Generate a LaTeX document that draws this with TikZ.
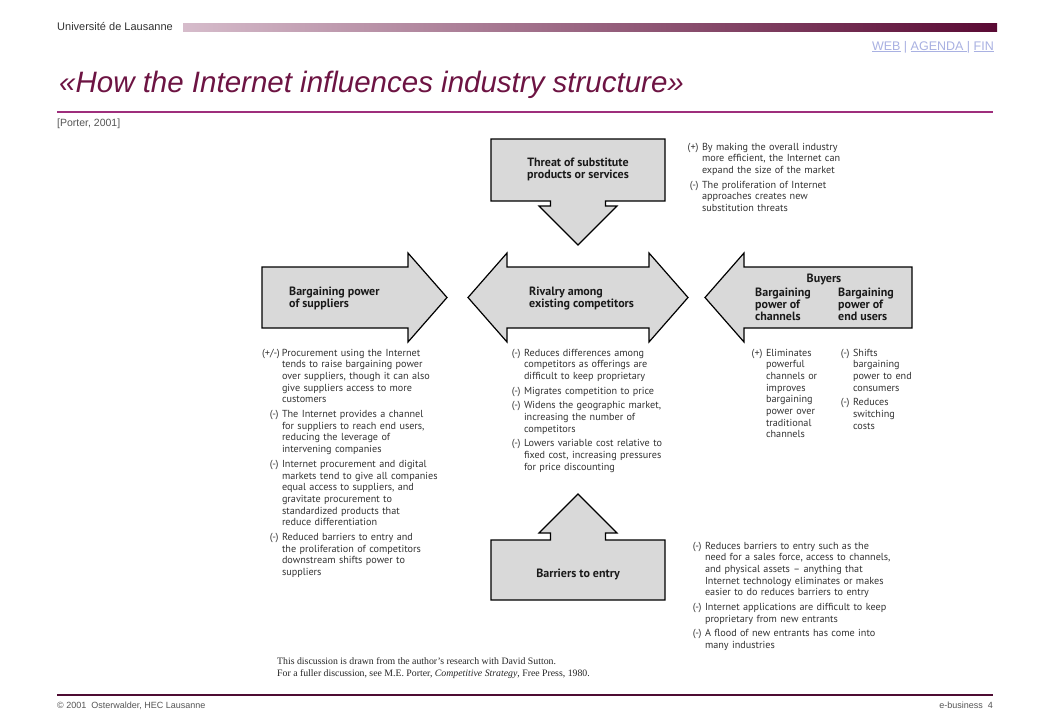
\documentclass[tikz,border=0pt]{standalone}
\usepackage{fontspec}
\setmainfont{PT Sans}
\newfontfamily\hdr{Liberation Sans}
\newfontfamily\fnserif{Liberation Serif}
\definecolor{barL}{HTML}{D6BCCB}
\definecolor{barR}{HTML}{5A0A34}
\definecolor{titlec}{HTML}{6D1443}
\definecolor{rulec}{HTML}{9E2E7C}
\definecolor{footrule}{HTML}{4E0C32}
\definecolor{linkc}{HTML}{A9B1E2}
\definecolor{greyt}{HTML}{555555}
\definecolor{notec}{HTML}{333333}
\definecolor{labelc}{HTML}{1A1A1A}
\definecolor{boxgray}{HTML}{D9D9D9}
\newlength\mkw
\newcommand\nitem[2]{\hangindent=\mkw\hangafter=1\noindent\hbox to\mkw{\hfil#1\hskip3.5pt}#2\par}
\newcommand\ngap{\vskip3pt}
\newcommand\notefont{\fontsize{10.2}{11.7}\selectfont}
\tikzset{
  shapebox/.style={draw=black, fill=boxgray, line width=1.2pt, line join=miter},
  note/.style={anchor=base west, inner sep=0pt, outer sep=0pt, align=left, text width=#1, font=\notefont, text=notec},
  boxlabel/.style={inner sep=0pt, font=\bfseries\fontsize{12}{11.8}\selectfont, text=labelc},
  hdrtext/.style={inner sep=0pt, font=\hdr\fontsize{11}{12}\selectfont, text=greyt},
}
\begin{document}
\begin{tikzpicture}[x=1pt,y=-1pt]
\fill[white] (0,0) rectangle (1040,720);
\useasboundingbox (0,0) rectangle (1040,720);

% ---------- header ----------
\node[hdrtext, anchor=base west, text=black!80] (univ) at (57,30) {Université de Lausanne};
\shade[left color=barL, right color=barR] (183,23) rectangle (997,31);
\node[hdrtext, anchor=base east, text=linkc, font=\hdr\fontsize{12.5}{13}\selectfont] (links) at (994,50)
  {\underline{WEB} | \underline{AGENDA\ }| \underline{FIN}};
\node[inner sep=0pt, anchor=base west, text=titlec, font=\hdr\itshape\fontsize{29.5}{34}\selectfont] (title) at (59,92)
  {«How the Internet influences industry structure»};
\draw[rulec, line width=1.2pt] (57,112) -- (993,112);
\node[hdrtext, anchor=base west, font=\hdr\fontsize{10.5}{11}\selectfont] (source) at (57,126) {[Porter, 2001]};

% ---------- shapes ----------
% threat of substitutes (down arrow)
\draw[shapebox] (491,139) -- (665,139) -- (665,201) -- (605.5,201) -- (605.5,206) -- (617,206)
  -- (578,245) -- (539,206) -- (550.5,206) -- (550.5,201) -- (491,201) -- cycle;
% suppliers (right arrow)
\draw[shapebox] (262,267) -- (408,267) -- (408,253) -- (447,297.5) -- (408,342) -- (408,328) -- (262,328) -- cycle;
% rivalry (double arrow)
\draw[shapebox] (468,297.5) -- (507,253) -- (507,267) -- (649,267) -- (649,253) -- (688,297.5)
  -- (649,342) -- (649,328) -- (507,328) -- (507,342) -- cycle;
% buyers (left arrow)
\draw[shapebox] (705,297.5) -- (744,253) -- (744,267) -- (912,267) -- (912,328) -- (744,328) -- (744,342) -- cycle;
% barriers to entry (up arrow)
\draw[shapebox] (578,494) -- (617,533) -- (605.5,533) -- (605.5,540) -- (665,540) -- (665,600)
  -- (491,600) -- (491,540) -- (550.5,540) -- (550.5,533) -- (539,533) -- cycle;

% ---------- box labels (base = last line) ----------
\node[boxlabel, anchor=base, align=center] (threat) at (578,178) {Threat of substitute\\products or services};
\node[boxlabel, anchor=base west, align=left] (suppl) at (289,307) {Bargaining power\\of suppliers};
\node[boxlabel, anchor=base west, align=left] (rival) at (529,307) {Rivalry among\\existing competitors};
\node[boxlabel, anchor=base] (buyers) at (824,282) {Buyers};
\node[boxlabel, anchor=base west, align=left] (chan) at (755,320.5) {Bargaining\\power of\\channels};
\node[boxlabel, anchor=base west, align=left] (endu) at (838,320.5) {Bargaining\\power of\\end users};
\node[boxlabel, anchor=base] (barr) at (578,577) {Barriers to entry};

% ---------- notes ----------
\node[note=220pt] (ntop) at (686,150) {\setlength\mkw{16pt}%
\nitem{(+)}{By making the overall industry\newline more efficient, the Internet can\newline expand the size of the market}\ngap
\nitem{(-)}{The proliferation of Internet\newline approaches creates new\newline substitution threats}};

\node[note=220pt] (nsup) at (262,356) {\setlength\mkw{20pt}%
\nitem{(+/-)}{Procurement using the Internet\newline tends to raise bargaining power\newline over suppliers, though it can also\newline give suppliers access to more\newline customers}\ngap
\nitem{(-)}{The Internet provides a channel\newline for suppliers to reach end users,\newline reducing the leverage of\newline intervening companies}\ngap
\nitem{(-)}{Internet procurement and digital\newline markets tend to give all companies\newline equal access to suppliers, and\newline gravitate procurement to\newline standardized products that\newline reduce differentiation}\ngap
\nitem{(-)}{Reduced barriers to entry and\newline the proliferation of competitors\newline downstream shifts power to\newline suppliers}};

\node[note=220pt] (nriv) at (509,356) {\setlength\mkw{15pt}%
\nitem{(-)}{Reduces differences among\newline competitors as offerings are\newline difficult to keep proprietary}\ngap
\nitem{(-)}{Migrates competition to price}\ngap
\nitem{(-)}{Widens the geographic market,\newline increasing the number of\newline competitors}\ngap
\nitem{(-)}{Lowers variable cost relative to\newline fixed cost, increasing pressures\newline for price discounting}};

\node[note=100pt] (nchan) at (750,356) {\setlength\mkw{16pt}%
\nitem{(+)}{Eliminates\newline powerful\newline channels or\newline improves\newline bargaining\newline power over\newline traditional\newline channels}};

\node[note=100pt] (nend) at (837,356) {\setlength\mkw{16pt}%
\nitem{(-)}{Shifts\newline bargaining\newline power to end\newline consumers}\ngap
\nitem{(-)}{Reduces\newline switching\newline costs}};

\node[note=260pt] (nbar) at (689,549) {\setlength\mkw{16pt}%
\nitem{(-)}{Reduces barriers to entry such as the\newline need for a sales force, access to channels,\newline and physical assets – anything that\newline Internet technology eliminates or makes\newline easier to do reduces barriers to entry}\ngap
\nitem{(-)}{Internet applications are difficult to keep\newline proprietary from new entrants}\ngap
\nitem{(-)}{A flood of new entrants has come into\newline many industries}};

% ---------- footnote ----------
\node[inner sep=0pt, anchor=base west, align=left, text=black!85, font=\fnserif\fontsize{9.8}{12}\selectfont] (fn) at (277,676)
  {This discussion is drawn from the author’s research with David Sutton.\\
   For a fuller discussion, see M.E. Porter, \textit{Competitive Strategy}, Free Press, 1980.};

% ---------- footer ----------
\draw[footrule, line width=1.2pt] (57,695) -- (993,695);
\node[hdrtext, anchor=base west, font=\hdr\fontsize{9}{11}\selectfont] (copy) at (57,708) {© 2001\ \ Osterwalder, HEC Lausanne};
\node[hdrtext, anchor=base east, font=\hdr\fontsize{9}{11}\selectfont] (page) at (993,708) {e-business\ \ 4};
\end{tikzpicture}
\end{document}
